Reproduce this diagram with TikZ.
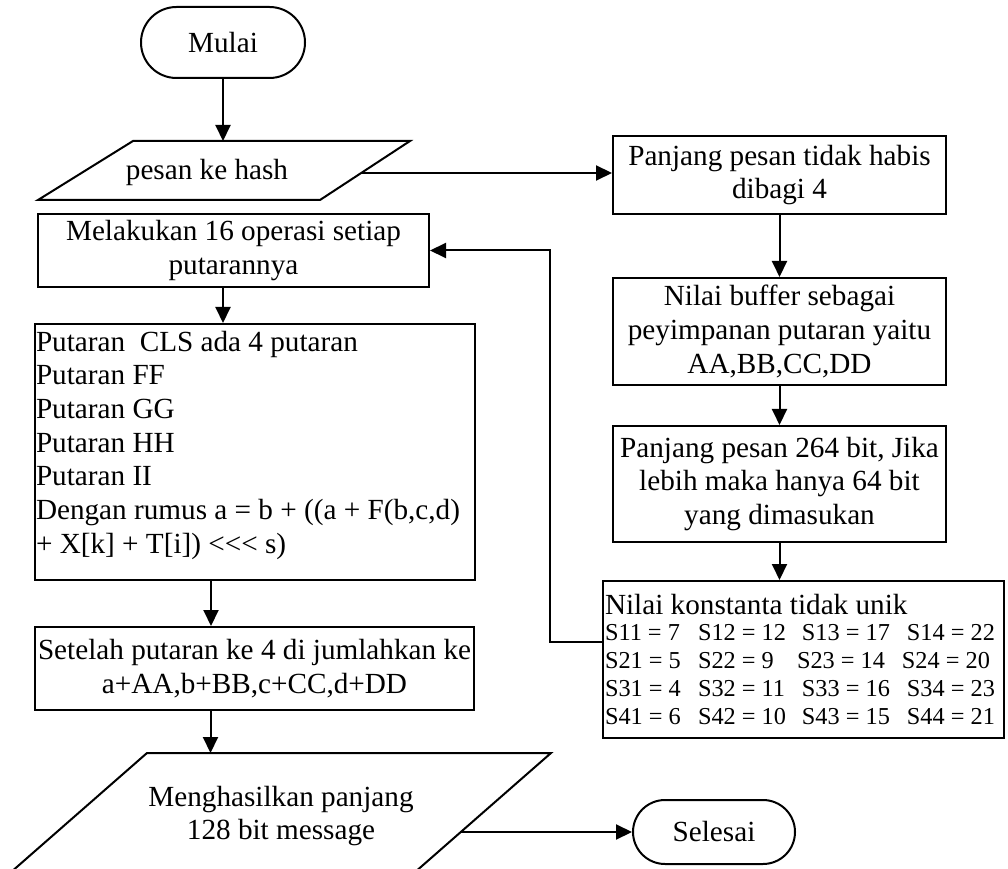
\documentclass[tikz,border=0pt]{standalone}
\usepackage{fontspec}
\setmainfont{Liberation Serif}
\usepackage{tikz}
\usetikzlibrary{arrows.meta,positioning,shapes.misc}
\newcommand\flowfont{\fontsize{29.2pt}{33.7pt}\selectfont}
\newcommand\constfont{\fontsize{24.3pt}{28pt}\selectfont}
\newcommand\sval[2]{\makebox[#1][l]{#2}}

\begin{document}
\begin{tikzpicture}[
  x=1pt,y=1pt,
  node distance=40pt,
  box/.style={draw,line width=2pt,minimum width=333pt,inner sep=1pt,align=center,font=\flowfont},
  term/.style={draw,line width=2pt,rounded rectangle,minimum width=164pt,minimum height=71pt,inner sep=0pt,font=\flowfont},
  iotext/.style={align=center,inner sep=0pt,font=\flowfont},
  io/.style={line width=2pt,line join=miter},
  arrow/.style={-{Triangle[length=16pt,width=15pt]},line width=2pt}
]
\useasboundingbox (0,0) rectangle (1008,868);
\clip (0,0) rectangle (1008,868);

% left column
\node[term] (start) at (223,825.5) {Mulai};
\node[iotext] (msg) at (207,696) {pesan ke hash};
\draw[io] (38,668) -- (133,727) -- (410,727) -- (320,668) -- cycle;
\coordinate (msg-r) at (361,695);
\node[box,minimum width=391pt,minimum height=73pt] (loop) at (233.5,617.5) {Melakukan 16 operasi setiap\\putarannya};
\node[box,minimum width=440pt,minimum height=256pt,text width=438pt,align=flush left,inner ysep=6pt] (rounds) at (255,416)
  {Putaran\ \ CLS ada 4 putaran\\Putaran FF\\Putaran GG\\Putaran HH\\Putaran II\\\mbox{Dengan rumus a = b + ((a + F(b,c,d)}\\+ X[k] + T[i]) <{}<{}< s)\\[-14pt]\mbox{}};
\node[box,minimum width=439pt,minimum height=83pt,inner xsep=0pt] (sum) at (254.5,199.5) {Setelah putaran ke 4 di jumlahkan ke\\a+AA,b+BB,c+CC,d+DD};
\node[iotext] (out) at (281,52) {Menghasilkan panjang\\128 bit message};
\draw[io] (147,115) -- (551,115) -- (406,-12) -- (2,-12) -- cycle;
\coordinate (out-r) at (461,36);
\node[term,minimum width=162pt,minimum height=64pt] (done) at (714,36) {Selesai};

% right column
\node[box,minimum height=78pt] (len) at (779.5,693) {Panjang pesan tidak habis\\dibagi 4};
\node[box,minimum height=107pt,below=62pt of len] (buf) {Nilai buffer sebagai\\peyimpanan putaran yaitu\\AA,BB,CC,DD};
\node[box,minimum height=116pt,below=39pt of buf] (cut) {Panjang pesan 264 bit, Jika\\lebih maka hanya 64 bit\\yang dimasukan};
\node[box,minimum width=401pt,minimum height=157pt,text width=397pt,align=flush left,inner xsep=2pt,font=\constfont] (konst) at (803.5,208.5)
  {{\flowfont Nilai konstanta tidak unik}\\[-2pt]
   \sval{93pt}{S11 = 7}\sval{104pt}{S12 = 12}\sval{105pt}{S13 = 17}S14 = 22\\
   \sval{93pt}{S21 = 5}\sval{99pt}{S22 = 9}\sval{105pt}{S23 = 14}S24 = 20\\
   \sval{93pt}{S31 = 4}\sval{104pt}{S32 = 11}\sval{105pt}{S33 = 16}S34 = 23\\
   \sval{93pt}{S41 = 6}\sval{104pt}{S42 = 10}\sval{105pt}{S43 = 15}S44 = 21};

% connectors
\draw[arrow] (start.south) -- (start.south |- 0,727);
\draw[arrow] (msg-r) -- (msg-r -| len.west);
\draw[arrow] (len) -- (buf);
\draw[arrow] (buf) -- (cut);
\draw[arrow] (cut.south) -- (cut.south |- konst.north);
\draw[arrow] ([yshift=17.5pt]konst.west) -- ++(-52pt,0) |- (loop.east);
\draw[arrow] (loop.south -| start.south) -- (rounds.north -| start.south);
\draw[arrow] ([xshift=-44pt]rounds.south) -- ([xshift=-44pt]rounds.south |- sum.north);
\draw[arrow] ([xshift=-44pt]sum.south) -- ([xshift=-44pt]sum.south |- 0,115);
\draw[arrow] (out-r) -- (done.west);
\end{tikzpicture}
\end{document}
